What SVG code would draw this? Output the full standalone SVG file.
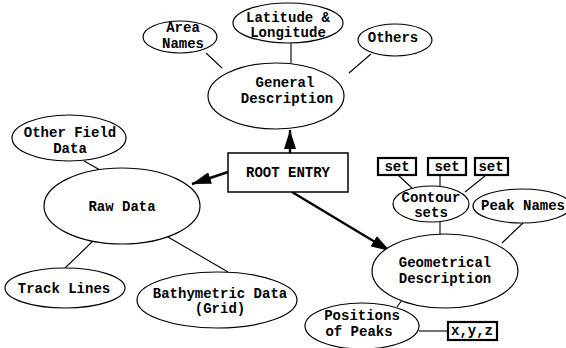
<svg xmlns="http://www.w3.org/2000/svg" width="566" height="348" viewBox="0 0 566 348">
  <style>
    .node ellipse { fill: #fff; stroke: #000; stroke-width: 1.2; }
    .box { fill: #fff; stroke: #000; stroke-width: 1.5; }
    .sbox { fill: #fff; stroke: #000; stroke-width: 2.2; }
    text { font-family: "Liberation Mono", "Courier New", monospace; font-size: 14px; font-weight: bold; fill: #000; text-anchor: middle; }
    .link { stroke: #000; stroke-width: 1.1; fill: none; }
    .arrow { stroke: #000; stroke-width: 2.4; fill: none; marker-end: url(#head); }
  </style>
  <defs>
    <marker id="head" markerUnits="userSpaceOnUse" markerWidth="20" markerHeight="12" refX="19" refY="6" orient="auto">
      <path d="M0,0 L19,6 L0,12 Z" fill="#000"/>
    </marker>
  </defs>
  <rect width="566" height="348" fill="#fff"/>

  <g id="connectors">
    <line class="link" x1="206" y1="53" x2="222" y2="68"/>
    <line class="link" x1="291" y1="43" x2="291" y2="63"/>
    <line class="link" x1="371" y1="54" x2="349" y2="73"/>
    <line class="link" x1="84" y1="161" x2="100" y2="170"/>
    <line class="link" x1="92" y1="242" x2="65" y2="268"/>
    <line class="link" x1="168" y1="237" x2="228" y2="272"/>
    <line class="link" x1="398" y1="175" x2="412" y2="188"/>
    <line class="link" x1="440" y1="175" x2="440" y2="186"/>
    <line class="link" x1="485" y1="176" x2="465" y2="192"/>
    <line class="link" x1="440" y1="222" x2="440" y2="235"/>
    <line class="link" x1="523" y1="223" x2="502" y2="243"/>
    <line class="link" x1="397" y1="307" x2="402" y2="300"/>
    <line class="link" x1="419" y1="331" x2="448" y2="331"/>
    <line class="arrow" x1="290" y1="153" x2="290" y2="130"/>
    <line class="arrow" x1="228" y1="172" x2="192" y2="184"/>
    <line class="arrow" x1="292" y1="192" x2="390" y2="251"/>
  </g>

  <g id="general" class="node">
    <ellipse cx="276" cy="96" rx="68" ry="33"/>
    <text x="285" y="87">General</text>
    <text x="287" y="103">Description</text>
  </g>
  <g id="area-names" class="node">
    <ellipse cx="180" cy="37" rx="37" ry="16"/>
    <text x="183" y="32">Area</text>
    <text x="183" y="48">Names</text>
  </g>
  <g id="lat-long" class="node">
    <ellipse cx="288" cy="23" rx="55" ry="20"/>
    <text x="288" y="22">Latitude &amp;</text>
    <text x="288" y="37">Longitude</text>
  </g>
  <g id="others" class="node">
    <ellipse cx="395" cy="40" rx="37" ry="16"/>
    <text x="393" y="42">Others</text>
  </g>

  <g id="root" class="node">
    <rect class="box" x="228" y="153" width="120" height="39"/>
    <text x="288" y="177">ROOT ENTRY</text>
  </g>

  <g id="other-field" class="node">
    <ellipse cx="69" cy="138" rx="57" ry="23"/>
    <text x="70" y="137">Other Field</text>
    <text x="70" y="153">Data</text>
  </g>
  <g id="raw-data" class="node">
    <ellipse cx="122" cy="206" rx="78" ry="38"/>
    <text x="122" y="211">Raw Data</text>
  </g>
  <g id="track-lines" class="node">
    <ellipse cx="65" cy="288" rx="60" ry="20"/>
    <text x="64" y="293">Track Lines</text>
  </g>
  <g id="bathymetric" class="node">
    <ellipse cx="217" cy="300" rx="80" ry="28"/>
    <text x="220" y="298">Bathymetric Data</text>
    <text x="220" y="313">(Grid)</text>
  </g>

  <g id="geometrical" class="node">
    <ellipse cx="445" cy="271" rx="73" ry="37"/>
    <text x="445" y="267">Geometrical</text>
    <text x="445" y="283">Description</text>
  </g>
  <g id="contour-sets" class="node">
    <ellipse cx="431" cy="204" rx="38" ry="18"/>
    <text x="431" y="202">Contour</text>
    <text x="431" y="217">sets</text>
  </g>
  <g id="set-1" class="node">
    <rect class="sbox" x="378" y="158" width="38" height="17"/>
    <text x="397" y="171">set</text>
  </g>
  <g id="set-2" class="node">
    <rect class="sbox" x="428" y="158" width="38" height="17"/>
    <text x="447" y="171">set</text>
  </g>
  <g id="set-3" class="node">
    <rect class="sbox" x="475" y="158" width="33" height="17"/>
    <text x="491" y="171">set</text>
  </g>
  <g id="peak-names" class="node">
    <ellipse cx="522" cy="206" rx="49" ry="17"/>
    <text x="523" y="210">Peak Names</text>
  </g>
  <g id="positions" class="node">
    <ellipse cx="362" cy="326" rx="57" ry="23"/>
    <text x="362" y="320">Positions</text>
    <text x="359" y="336">of Peaks</text>
  </g>
  <g id="xyz" class="node">
    <rect class="sbox" x="448" y="322" width="49" height="18"/>
    <text x="472" y="335">x,y,z</text>
  </g>
</svg>
